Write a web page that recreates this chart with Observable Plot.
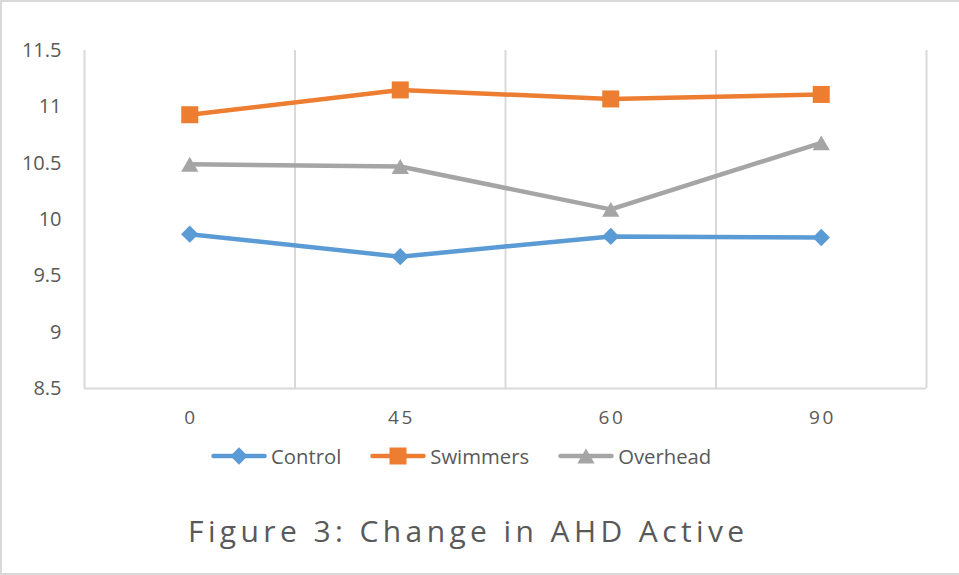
<!DOCTYPE html>
<html>
<head>
<meta charset="utf-8">
<script src="https://cdn.jsdelivr.net/npm/d3@7"></script>
<script src="https://cdn.jsdelivr.net/npm/@observablehq/plot@0.6"></script>
<style>
  html, body { margin: 0; padding: 0; background: #fff; }
  #wrap { position: relative; width: 959px; height: 575px; overflow: hidden; font-family: "Open Sans", sans-serif; color: #595959; }
  #wrap svg.plot { position: absolute; left: 0; top: 0; }
  #border { position: absolute; left: 0; top: 0; width: 959px; height: 575px; box-sizing: border-box;
            border-left: 2px solid #d9d9d9; border-top: 2px solid #d9d9d9; border-bottom: 2px solid #d9d9d9; pointer-events: none; }
  #legend { position: absolute; left: 211px; top: 446px; height: 20px; display: flex; align-items: center; font-size: 20.3px; line-height: 20px; }
  #legend .item { display: flex; align-items: center; margin-right: 29px; }
  #legend .item svg { display: block; margin-right: 4px; }
  #title { position: absolute; left: 188px; top: 516px; font-size: 30px; line-height: 30px; letter-spacing: 4.4px; white-space: nowrap; }
  g[aria-label="x-axis tick label"] text { letter-spacing: 2.5px; }
</style>
</head>
<body>
<div id="wrap">
  <div id="plot"></div>
  <div id="legend"></div>
  <div id="title">Figure 3: Change in AHD Active</div>
  <div id="border"></div>
</div>
<script>
const categories = ["0", "45", "60", "90"];
const control  = [9.87, 9.67, 9.85, 9.84];
const swimmers = [10.93, 11.15, 11.07, 11.11];
const overhead = [10.49, 10.47, 10.09, 10.68];
const seriesNames = ["Control", "Swimmers", "Overhead"];
const seriesColors = ["#5B9BD5", "#ED7D31", "#A5A5A5"];
const yTicks = [8.5, 9, 9.5, 10, 10.5, 11, 11.5];
const yDomain = [8.5, 11.5];

const seriesValues = [control, swimmers, overhead];
const rows = [];
seriesNames.forEach((s, k) => seriesValues[k].forEach((v, i) => rows.push({s, i, v})));
const idx = categories.map((_, i) => i);
const bounds = [-0.5, ...idx.map(i => i + 0.5)];
const xDomain = [-0.5, categories.length - 0.5];

const markers = {
  Control:  {symbol: "diamond2", r: 7.8, dy: 0},
  Swimmers: {symbol: "square",   r: 9.6, dy: 0},
  Overhead: {symbol: "triangle", r: 6.4, dy: 2.5}
};

const chart = Plot.plot({
  width: 959,
  height: 435,
  marginLeft: 84,
  marginRight: 33,
  marginTop: 50,
  marginBottom: 47,
  style: {fontFamily: "Open Sans", color: "#595959", background: "transparent"},
  x: {type: "linear", domain: xDomain},
  y: {domain: yDomain},
  color: {domain: seriesNames, range: seriesColors},
  marks: [
    Plot.ruleX(bounds, {x: d => d, y1: yDomain[0], y2: yDomain[1], stroke: "#d9d9d9", strokeWidth: 2}),
    Plot.ruleY([yDomain[0]], {x1: xDomain[0], x2: xDomain[1], stroke: "#d9d9d9", strokeWidth: 2}),
    Plot.axisX(idx, {tickFormat: i => categories[i], tickSize: 0, tickPadding: 22, fontSize: 19, dx: 1.2, label: null}),
    Plot.axisY(yTicks, {tickFormat: d => String(d), tickSize: 0, tickPadding: 23, fontSize: 20, label: null}),
    Plot.line(rows, {x: "i", y: "v", z: "s", stroke: "s", strokeWidth: 4.5, strokeLinejoin: "round", strokeLinecap: "round"}),
    ...seriesNames.map(s => Plot.dot(rows.filter(d => d.s === s), {
      x: "i", y: "v", fill: "s", r: markers[s].r, symbol: markers[s].symbol, dy: markers[s].dy, stroke: "none"
    }))
  ]
});
chart.classList.add("plot");
document.getElementById("plot").appendChild(chart);

// Legend
const symMap = {diamond2: d3.symbolDiamond2, square: d3.symbolSquare, triangle: d3.symbolTriangle};
const legend = document.getElementById("legend");
seriesNames.forEach((s, k) => {
  const m = markers[s];
  const path = d3.symbol(symMap[m.symbol], m.r * m.r * Math.PI)();
  const item = document.createElement("div");
  item.className = "item";
  item.innerHTML = `<svg width="56" height="20" viewBox="0 0 56 20">
      <line x1="2.5" y1="10" x2="53.5" y2="10" stroke="${seriesColors[k]}" stroke-width="4.5" stroke-linecap="round"/>
      <path d="${path}" transform="translate(28,${10 + m.dy})" fill="${seriesColors[k]}"/>
    </svg><span>${s}</span>`;
  legend.appendChild(item);
});
</script>
</body>
</html>
